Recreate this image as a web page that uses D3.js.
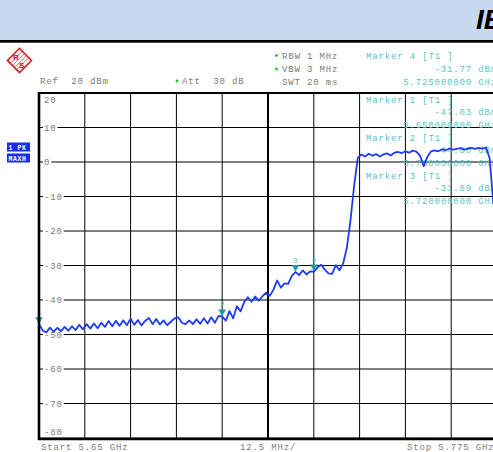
<!DOCTYPE html>
<html><head><meta charset="utf-8">
<script src="https://cdn.jsdelivr.net/npm/d3@7"></script>
<style>
html,body{margin:0;padding:0;background:#fff;overflow:hidden;}
svg{display:block;}
</style></head>
<body>
<svg id="c" width="493" height="452"></svg>
<script>
// ---- data ----
const freqMHz = [5650,5651,5652,5653,5654,5655,5656,5657,5658,5659,5660,5661,5662,5663,5664,5665,5666,5667,5668,5669,
5670,5671,5672,5673,5674,5675,5676,5677,5678,5679,5680,5681,5682,5683,5684,5685,5686,5687,5688,5689,
5690,5691,5692,5693,5694,5695,5696,5697,5698,5699,5700,5701,5702,5703,5704,5705,5706,5707,5708,5709,
5710,5711,5712,5713,5714,5715,5716,5717,5718,5719,5720,5721,5722,5723,5724,5725,5726,5727,5728,5729,
5730,5731,5732,5733,5734,5735,5736,5737,5738,5739,5740,5741,5742,5743,5744,5745,5746,5747,5748,5749,
5750,5751,5752,5753,5754,5755,5756,5757,5758,5759,5760,5761,5762,5763,5764,5765,5766,5767,5768,5769,
5770,5771,5772,5773,5774];
const levelDbm = [-47.0,-48.8,-49.4,-48.0,-49.2,-48.1,-49.0,-47.8,-48.9,-47.6,-48.7,-47.2,-48.5,-47.0,-48.3,-46.8,-48.2,-46.6,-47.8,-46.1,
-47.6,-46.0,-47.5,-45.9,-47.3,-45.4,-47.2,-45.8,-47.4,-46.0,-45.2,-47.0,-45.5,-47.1,-45.9,-47.3,-46.3,-45.3,-45.0,-46.6,
-47.0,-45.9,-47.0,-45.6,-46.9,-45.3,-46.8,-45.0,-46.6,-44.6,-44.8,-46.0,-43.2,-45.3,-41.8,-43.3,-40.6,-39.2,-40.5,-39.0,
-40.2,-38.9,-37.9,-38.8,-37.0,-34.3,-36.4,-35.2,-35.3,-33.0,-31.9,-32.8,-31.4,-32.6,-31.7,-31.8,-30.6,-29.8,-31.2,-32.3,
-32.4,-29.9,-31.4,-29.4,-25.0,-17.0,-7.0,1.2,2.2,1.6,2.4,1.8,2.3,1.6,2.2,2.5,1.9,2.7,2.9,2.6,
3.1,2.7,3.3,3.0,1.8,-1.2,1.5,3.1,3.4,3.1,3.7,3.4,3.9,3.6,3.8,4.0,3.6,3.9,4.1,3.8,
4.1,3.9,4.2,1.0,-12.0];

const markerIds = ["1","2","3","4"];
const markerFreq = [5650,5700,5720,5725];
const markerLevel = [-47.03,-44.80,-31.89,-31.77];

const yTicks = [20,10,0,-10,-20,-30,-40,-50,-60,-70,-80];
const xGridMHz = [5650,5662.5,5675,5687.5,5700,5712.5,5725,5737.5,5750,5762.5,5775];

const headerLeft = ["Ref  20 dBm"];
const settingLabels = ["RBW 1 MHz","VBW 3 MHz","SWT 20 ms"];
const attLabel = "Att  30 dB";
const topMarkerText = ["Marker 4 [T1 ]","-31.77 dBm","5.725000000 GHz"];
const boxMarkerText = [
  ["Marker 1 [T1 ]","-47.03 dBm","5.650000000 GHz"],
  ["Marker 2 [T1 ]","-44.80 dBm","5.700000000 GHz"],
  ["Marker 3 [T1 ]","-31.89 dBm","5.720000000 GHz"]
];
const footer = ["Start 5.65 GHz","12.5 MHz/","Stop 5.775 GHz"];
const traceTags = ["1 PK","MAXH"];
const titleText = "IEEE";

// ---- drawing ----
const svg = d3.select("#c");
const mono = "'Liberation Mono','DejaVu Sans Mono',monospace";
const grey = "#7a7a7a";
const teal = "#5cc4c4";

const x = d3.scaleLinear().domain([5650,5775]).range([39,497]);
const y = d3.scaleLinear().domain([-80,20]).range([438,93]);

// header band
svg.append("rect").attr("x",0).attr("y",0).attr("width",493).attr("height",40).attr("fill","#c6d9f0");
svg.append("rect").attr("x",0).attr("y",40).attr("width",493).attr("height",2.7).attr("fill","#000");
svg.append("text").attr("x",476).attr("y",28.5).text(titleText)
  .attr("font-family","'Liberation Sans Narrow','Liberation Sans',Arial,sans-serif")
  .attr("font-style","italic").attr("font-weight","bold").attr("font-size",28).attr("fill","#000");

// R&S logo
const logo = svg.append("g").attr("transform","translate(19.5,60.5) rotate(45)");
logo.append("rect").attr("x",-8.5).attr("y",-8.5).attr("width",17).attr("height",17)
  .attr("fill","none").attr("stroke","#d42020").attr("stroke-width",1.6);
[-4.5,-1.5,1.5,4.5].forEach(v=>{
  logo.append("line").attr("x1",v).attr("x2",v).attr("y1",-8.5).attr("y2",8.5).attr("stroke","#d42020").attr("stroke-width",0.7);
});
svg.append("text").attr("x",13).attr("y",60).text("R").attr("font-family","'Liberation Sans',sans-serif")
  .attr("font-weight","bold").attr("font-size",8).attr("fill","#c01818");
svg.append("text").attr("x",19).attr("y",68).text("S").attr("font-family","'Liberation Sans',sans-serif")
  .attr("font-weight","bold").attr("font-size",8).attr("fill","#c01818");

function mtext(t,xx,yy,col,anchor){
  return svg.append("text").attr("x",xx).attr("y",yy).text(t)
    .attr("font-family",mono).attr("font-size",9).attr("letter-spacing","0.85px")
    .attr("fill",col).attr("text-anchor",anchor||"start").attr("xml:space","preserve").style("white-space","pre");
}

// settings text
mtext(headerLeft[0],40,84,grey);
settingLabels.forEach((t,i)=>mtext(t,282,[58.5,72,84.5][i],grey));
[58.5,72].forEach(yy=>svg.append("circle").attr("cx",276.5).attr("cy",yy-3).attr("r",1.4).attr("fill","#22c022"));
svg.append("circle").attr("cx",177).attr("cy",81).attr("r",1.4).attr("fill","#22c022");
mtext(attLabel,182,84,grey);
mtext(topMarkerText[0],366,58.5,teal);
mtext(topMarkerText[1],497,72,teal,"end");
mtext(topMarkerText[2],497,84.5,teal,"end");

// trace tags
traceTags.forEach((t,i)=>{
  const yy=[142.5,153.5][i];
  svg.append("rect").attr("x",7).attr("y",yy).attr("width",23).attr("height",9).attr("fill","#1a2cf0");
  svg.append("text").attr("x",8.5).attr("y",yy+7).text(t).attr("font-family",mono).attr("font-weight","bold")
    .attr("font-size",6.5).attr("fill","#fff").attr("letter-spacing","0.6px").style("white-space","pre");
});

// plot background
svg.append("rect").attr("x",39).attr("y",93).attr("width",458).attr("height",345).attr("fill","#fff");

// grid
const g = svg.append("g");
xGridMHz.forEach(f=>{
  g.append("line").attr("x1",x(f)).attr("x2",x(f)).attr("y1",93).attr("y2",438)
   .attr("stroke","#000").attr("stroke-width", f===5712.5?2:1);
});
yTicks.forEach(v=>{
  g.append("line").attr("x1",39).attr("x2",497).attr("y1",y(v)).attr("y2",y(v))
   .attr("stroke","#000").attr("stroke-width",1);
});

// marker info text inside plot
boxMarkerText.forEach((rows,k)=>{
  const base = 103 + k*38;
  mtext(rows[0],366,base,teal);
  mtext(rows[1],497,base+12.3,teal,"end");
  mtext(rows[2],497,base+24.6,teal,"end");
});

// y labels
yTicks.forEach(v=>{
  let yy = y(v)+3.2;
  if(v===20) yy = 103;
  if(v===-80) yy = 435;
  const t = String(v);
  if(v!==20 && v!==-80){
    svg.append("rect").attr("x",43).attr("y",y(v)-4).attr("width",t.length*6.25+2).attr("height",8).attr("fill","#fff");
  }
  mtext(t,44,yy,grey);
});

// trace
const pts = freqMHz.map((f,i)=>[x(f),y(levelDbm[i])]);
svg.append("path").attr("d",d3.line()(pts)).attr("fill","none")
  .attr("stroke","#1f3cf5").attr("stroke-width",1.8).attr("stroke-linejoin","round");

// markers
markerFreq.forEach((f,i)=>{
  const cx = x(f), cy = y(markerLevel[i]);
  svg.append("path").attr("d",`M${cx-3.8},${cy-7}L${cx+3.8},${cy-7}L${cx},${cy-0.5}Z`).attr("fill","#1a9c9c");
  svg.append("text").attr("x",cx).attr("y",cy-9.5).text(markerIds[i]).attr("text-anchor","middle")
    .attr("font-family",mono).attr("font-size",8).attr("fill",teal);
});

// frame
svg.append("line").attr("x1",39).attr("x2",39).attr("y1",92).attr("y2",440).attr("stroke","#000").attr("stroke-width",2.6);
svg.append("line").attr("x1",38).attr("x2",497).attr("y1",439).attr("y2",439).attr("stroke","#000").attr("stroke-width",2.4);
svg.append("line").attr("x1",38).attr("x2",497).attr("y1",93).attr("y2",93).attr("stroke","#000").attr("stroke-width",2);

// footer
mtext(footer[0],41,450,grey);
mtext(footer[1],240,450,grey);
mtext(footer[2],407,450,grey);
</script>
</body></html>
